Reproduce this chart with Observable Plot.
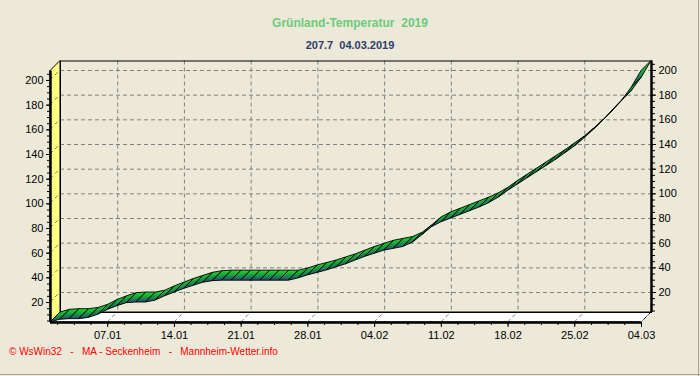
<!DOCTYPE html>
<html>
<head>
<meta charset="utf-8">
<script src="https://cdn.jsdelivr.net/npm/d3@7"></script>
<script src="https://cdn.jsdelivr.net/npm/@observablehq/plot@0.6"></script>
<style>
html, body { margin: 0; padding: 0; background: #ECE9D8; }
#wrap { position: relative; width: 700px; height: 376px; overflow: hidden; background: #ECE9D8; font-family: "Liberation Sans", Arial, sans-serif; }
#chart { position: absolute; left: 0; top: 0; }
#title { position: absolute; top: 16px; left: 0; width: 700px; text-align: center; font-weight: bold; font-size: 12px; color: #6DCB7C; white-space: pre; }
#subtitle { position: absolute; top: 39px; left: 0; width: 700px; text-align: center; font-weight: bold; font-size: 11px; color: #2E3C6A; white-space: pre; }
#footer { position: absolute; left: 9px; top: 346px; font-size: 10px; color: #FF0000; white-space: pre; }
#bR { position: absolute; left: 698px; top: 0; width: 1px; height: 376px; background: #A6A394; }
#bB { position: absolute; left: 0; top: 374px; width: 700px; height: 1px; background: #A6A394; }
</style>
</head>
<body>
<div id="wrap">
  <div id="chart"></div>
  <div id="title"></div>
  <div id="subtitle"></div>
  <div id="footer"></div>
  <div id="bR"></div>
  <div id="bB"></div>
</div>
<script>
// ---- data ----
const titleText = "Grünland-Temperatur  2019";
const subtitleText = "207.7  04.03.2019";
const footerText = "© WsWin32   -   MA - Seckenheim   -   Mannheim-Wetter.info";
const startDate = "2019-01-01";
// daily Grünland-Temperatur sum, 01.01 .. 04.03
const values = [
  3.8, 6, 6.5, 6.5, 7.5, 10, 14, 17, 19.5, 20, 20, 21.5, 25, 28, 31, 33.5, 36, 37.3,
  37.7, 37.7, 37.7, 37.7, 37.7, 37.7, 37.7, 37.7,
  39.5, 42, 44, 46, 48.5, 51, 54, 57, 59.5, 62, 63.5, 65, 68.5, 74.5, 81, 85, 88,
  91, 94, 97, 100.5, 105, 110.5, 115.5, 120.5, 125.5, 130.5, 135.5, 141, 146.5,
  153, 160, 167.5, 176, 184, 194.5, 207.7
];
const xTickDates = ["2019-01-07","2019-01-14","2019-01-21","2019-01-28","2019-02-04","2019-02-11","2019-02-18","2019-02-25","2019-03-04"];
const yTicks = [20, 40, 60, 80, 100, 120, 140, 160, 180, 200];

// ---- derived ----
const t0 = new Date(startDate);
const data = values.map((v, i) => ({date: d3.utcDay.offset(t0, i), value: v}));
const xTicks = xTickDates.map(s => new Date(s));
const xMinor = d3.range(-3, 33).map(k => new Date(+xTicks[0] + k * 1.75 * 864e5));
const yMinor = d3.range(5, 206, 5);
const DX = 10, DY = -10; // 3D depth offset (styling)

document.getElementById("title").textContent = titleText;
document.getElementById("subtitle").textContent = subtitleText;
document.getElementById("footer").textContent = footerText;

function walls(index, scales, vals, dims) {
  const {width, height, marginLeft, marginRight, marginTop, marginBottom} = dims;
  const x0 = marginLeft, x1 = width - marginRight, y0 = marginTop, y1 = height - marginBottom;
  const g = d3.create("svg:g");
  g.append("polygon")
    .attr("points", [[x0, y1], [x0, y0], [x0 + DX, y0 + DY], [x0 + DX, y1 + DY]].join(" "))
    .attr("fill", "#FFFF80").attr("stroke", "black");
  g.append("polygon")
    .attr("points", [[x0, y1], [x0 + DX, y1 + DY], [x1 + DX, y1 + DY], [x1, y1]].join(" "))
    .attr("fill", "white").attr("stroke", "black");
  for (const t of yTicks) {
    const yy = scales.y(t);
    g.append("line").attr("x1", x0).attr("y1", yy).attr("x2", x0 + DX).attr("y2", yy + DY)
      .attr("stroke", "#808080").attr("stroke-dasharray", "4,3");
  }
  for (const t of xTicks) {
    const xx = scales.x(t);
    g.append("line").attr("x1", xx).attr("y1", y1).attr("x2", xx + DX).attr("y2", y1 + DY)
      .attr("stroke", "#808080").attr("stroke-dasharray", "4,3");
  }
  return g.node();
}

function ribbon(index, scales, vals, dims) {
  const g = d3.create("svg:g");
  const lg = g.append("defs").append("linearGradient")
    .attr("id", "ribbonGrad").attr("x1", 0).attr("y1", 0).attr("x2", 0).attr("y2", 1);
  lg.append("stop").attr("offset", "0%").attr("stop-color", "#1EDC2A");
  lg.append("stop").attr("offset", "45%").attr("stop-color", "#17A53A");
  lg.append("stop").attr("offset", "100%").attr("stop-color", "#2C4479");
  const P = data.map(d => [scales.x(d.date), scales.y(d.value)]);
  for (let i = 0; i < P.length - 1; i++) {
    const [ax, ay] = P[i], [bx, by] = P[i + 1];
    g.append("polygon")
      .attr("points", [[ax, ay], [bx, by], [bx + DX, by + DY], [ax + DX, ay + DY]].join(" "))
      .attr("fill", "url(#ribbonGrad)")
      .attr("stroke", "black").attr("stroke-width", 0.9).attr("stroke-linejoin", "round");
  }
  return g.node();
}

const chart = Plot.plot({
  width: 700,
  height: 376,
  marginLeft: 50,
  marginRight: 59,
  marginTop: 70.5,
  marginBottom: 54,
  style: {background: "transparent", fontFamily: "'Liberation Sans', Arial, sans-serif", fontSize: "11px", color: "black"},
  x: {type: "utc", domain: [data[0].date, data[data.length - 1].date], label: null},
  y: {domain: d3.extent(values), label: null},
  marks: [
    walls,
    Plot.gridY(yTicks, {dx: DX, dy: DY, stroke: "#808080", strokeOpacity: 1, strokeDasharray: "4,3"}),
    Plot.gridX(xTicks, {dx: DX, dy: DY, stroke: "#808080", strokeOpacity: 1, strokeDasharray: "4,3"}),
    Plot.frame({dx: DX, dy: DY, stroke: "black"}),
    Plot.ruleX([data[data.length - 1].date], {dx: DX, dy: DY, stroke: "black", strokeWidth: 2.5}),
    Plot.axisY(yTicks, {anchor: "right", dx: DX, dy: DY, tickSize: 4, tickPadding: 3, fontSize: 11, tickFormat: d3.format("d"), label: null}),
    Plot.axisY(yMinor, {anchor: "right", dx: DX, dy: DY, tickSize: 3, fill: "none", label: null}),
    ribbon,
    Plot.ruleX([data[0].date], {stroke: "black", strokeWidth: 2.5}),
    Plot.ruleY([d3.min(values)], {stroke: "black", strokeWidth: 2.5}),
    Plot.axisY(yTicks, {anchor: "left", tickSize: 4, tickPadding: 3, fontSize: 11, tickFormat: d3.format("d"), label: null}),
    Plot.axisY(yMinor, {anchor: "left", tickSize: 3, fill: "none", label: null}),
    Plot.axisX(xTicks, {anchor: "bottom", tickSize: 5, tickPadding: 4, fontSize: 11, tickFormat: d3.utcFormat("%d.%m"), label: null}),
    Plot.axisX(xMinor, {anchor: "bottom", tickSize: 3, fill: "none", label: null})
  ]
});
document.getElementById("chart").appendChild(chart);
</script>
</body>
</html>
